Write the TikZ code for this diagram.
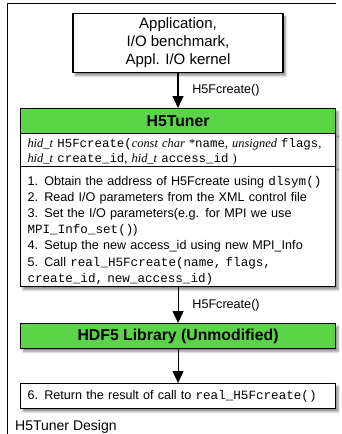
\documentclass[tikz,border=0pt]{standalone}
\usepackage{fontspec}
\setmainfont{Liberation Sans}
\setmonofont{Liberation Mono}
\newfontfamily\timesfont{Liberation Serif}
\usetikzlibrary{arrows.meta,shadows.blur}
\definecolor{tunergreen}{RGB}{92,212,72}
\newcommand{\ctype}[1]{{\timesfont\itshape #1}}
\newcommand{\toprule}[1]{\rule{0pt}{#1}}
\newcommand{\botrule}[1]{\rule[-#1]{0pt}{#1}}
\begin{document}
\begin{tikzpicture}[x=1pt, y=-1pt, line join=round, >={Triangle[width=11pt,length=12pt]}, font=\fontsize{12.6}{16.2}\selectfont]
\tikzset{box/.style={draw, line width=1.1pt, fill=white, inner sep=0pt, blur shadow={shadow xshift=2.5pt, shadow yshift=-3pt, shadow blur steps=6, shadow opacity=45}},
  greenbox/.style={box, fill=tunergreen, font=\fontsize{15.8}{18}\selectfont\bfseries, minimum width=315pt, minimum height=25pt, anchor=north west},
  textbox/.style={box, anchor=north west, align=left, text width=301pt, inner xsep=7pt},
  lbl/.style={right, xshift=10.5pt, font=\fontsize{12.6}{14}\selectfont}}
\useasboundingbox (0,0) rectangle (341,434);
\draw[line width=0.8pt] (7,434) -- (7,3) -- (336,3);
\node[box, align=center, minimum width=210pt, minimum height=59pt, anchor=north, font=\fontsize{15}{18}\selectfont] (app) at (178,13) {Application,\\I/O benchmark,\\Appl. I/O kernel};
\node[greenbox] (tuner) at (20,108) {H5Tuner};
\node[textbox, font=\fontsize{12.4}{15}\selectfont] (sig) at (20,133) {\toprule{13.5pt}\mbox{\ctype{hid\_t} \texttt{H5Fcreate(}\ctype{const char} {\timesfont *}\texttt{name}{\timesfont,} \ctype{unsigned} \texttt{flags}{\timesfont,}}\\
  \ctype{hid\_t} \texttt{create\_id}{\timesfont,} \ctype{hid\_t} \texttt{access\_id} {\timesfont)}\botrule{4.5pt}};
\node[textbox] (steps) at (20,166) {\toprule{18.5pt}1. Obtain the address of H5Fcreate using \texttt{dlsym()}\\
  2. Read I/O parameters from the XML control file\\
  3. Set the I/O parameters(e.g. for MPI we use\\
  \texttt{MPI\_Info\_set()})\\
  4. Setup the new access\_id using new MPI\_Info\\
  5. Call \texttt{real\_H5Fcreate(name, flags,}\\
  \texttt{create\_id, new\_access\_id)}\botrule{4.3pt}};
\node[greenbox] (hdf) at (20,323) {HDF5 Library (Unmodified)};
\node[textbox, minimum height=25pt] (ret) at (20,383) {6. Return the result of call to \texttt{real\_H5Fcreate()}};
\node[anchor=west, inner sep=0pt, font=\fontsize{14}{16}\selectfont] (caption) at (15,427) {H5Tuner Design};
\draw[->, line width=1.1pt] (app.south) -- node[lbl] {H5Fcreate()} (app.south |- tuner.north);
\draw[->, line width=1.1pt] (steps.south) -- node[lbl] {H5Fcreate()} (hdf.north);
\draw[->, line width=1.1pt] (hdf.south) -- (ret.north);
\end{tikzpicture}
\end{document}
